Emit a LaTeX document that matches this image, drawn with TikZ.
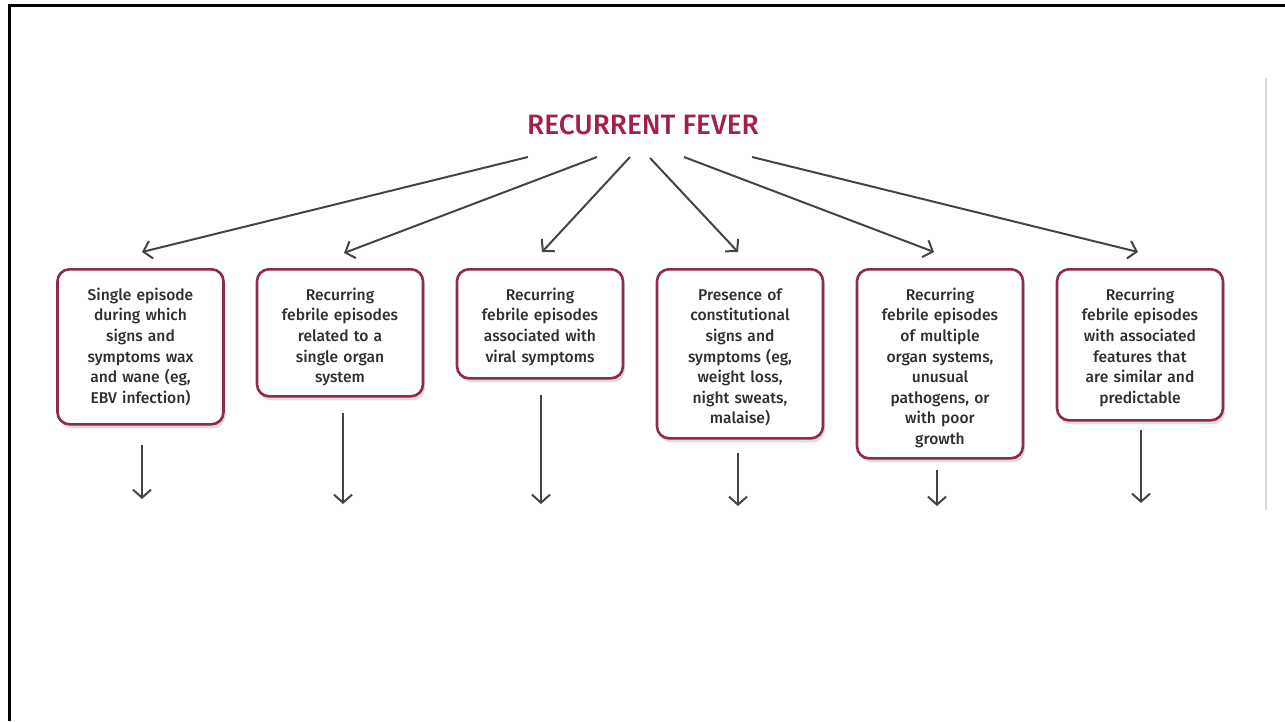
\documentclass[tikz,border=0pt]{standalone}
\usepackage{fontspec}
\setmainfont{Fira Sans}
\newfontfamily\boxfont{Fira Sans Medium}
\usetikzlibrary{arrows.meta,shadows,calc}
\definecolor{crimson}{HTML}{A31F50}
\definecolor{boxedge}{HTML}{8E2A4E}
\definecolor{arrowgray}{HTML}{444444}
\definecolor{txtgray}{HTML}{2E2E2E}
\tikzset{
  fbox/.style={draw=boxedge, line width=2.6pt, fill=white, rounded corners=12pt,
    text width=162pt, align=center, inner xsep=2pt, inner ysep=0pt,
    text height=31pt,
    font=\boxfont\fontsize{15.6}{20.6}\selectfont, text=txtgray,
    drop shadow={shadow xshift=2pt, shadow yshift=-4pt, opacity=0.22, fill=black!60}},
  arr/.style={draw=arrowgray, line width=2pt, -{Straight Barb[length=8pt,width=18pt,line width=2pt]}},
  titlestyle/.style={font=\boxfont\fontsize{28}{30}\selectfont, text=crimson, inner sep=0pt}
}
\begin{document}
\begin{tikzpicture}[x=1pt,y={(0pt,-1pt)}]
\useasboundingbox (0,0) rectangle (1285,721);
% frame
\draw[line width=3pt, black] (1285,5) -- (9,5) -- (9,721);
\draw[line width=1.5pt, black!15] (1266,78) -- (1266,510);
% title
\node[titlestyle] (t) at (643,125) {RECURRENT FEVER};
% boxes (top edge at y=268)
\node[fbox, text depth=124pt, anchor=north] (b1) at (140.5,268)
  {Single episode\\during which\\signs and\\symptoms wax\\and wane (eg,\\EBV infection)};
\node[fbox, text depth=96pt, anchor=north] (b2) at (340,268)
  {Recurring\\febrile episodes\\related to a\\single organ\\system};
\node[fbox, text depth=78pt, anchor=north] (b3) at (540,268)
  {Recurring\\febrile episodes\\associated with\\viral symptoms};
\node[fbox, text depth=138pt, anchor=north] (b4) at (740,268)
  {Presence of\\constitutional\\signs and\\symptoms (eg,\\weight loss,\\night sweats,\\malaise)};
\node[fbox, text depth=158pt, anchor=north] (b5) at (940,268)
  {Recurring\\febrile episodes\\of multiple\\organ systems,\\unusual\\pathogens, or\\with poor\\growth};
\node[fbox, text depth=120pt, anchor=north] (b6) at (1140,268)
  {Recurring\\febrile episodes\\with associated\\features that\\are similar and\\predictable};
% arrow coordinates
\coordinate (s1) at (528,157); \coordinate (e1) at (142,252);
\coordinate (s2) at (597,157); \coordinate (e2) at (344,253);
\coordinate (s3) at (630,157); \coordinate (e3) at (542,252);
\coordinate (s4) at (650,158); \coordinate (e4) at (738,252);
\coordinate (s5) at (684,157); \coordinate (e5) at (934,252);
\coordinate (s6) at (752,157); \coordinate (e6) at (1138,252);
\foreach \i in {1,...,6} { \draw[arr] (s\i) -- (e\i); }
% down arrows
\coordinate (u1) at (142,445); \coordinate (d1) at (142,499);
\coordinate (u2) at (343,413); \coordinate (d2) at (343,504);
\coordinate (u3) at (541,395); \coordinate (d3) at (541,504);
\coordinate (u4) at (738,453); \coordinate (d4) at (738,506);
\coordinate (u5) at (937,470); \coordinate (d5) at (937,506);
\coordinate (u6) at (1141,430); \coordinate (d6) at (1141,503);
\foreach \i in {1,...,6} { \draw[arr] (u\i) -- (d\i); }
\end{tikzpicture}
\end{document}
